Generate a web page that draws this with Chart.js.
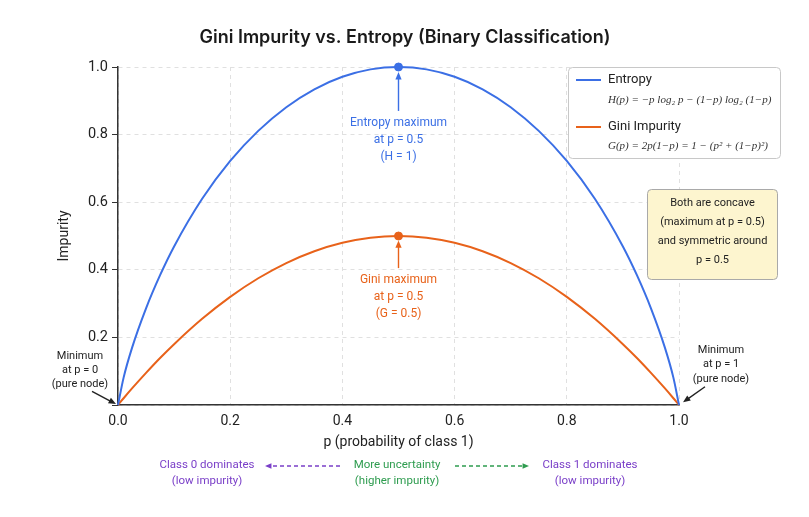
<!DOCTYPE html>
<html>
<head>
<meta charset="utf-8">
<script src="https://cdn.jsdelivr.net/npm/chart.js@4.4.1/dist/chart.umd.min.js"></script>
<style>
  html, body { margin: 0; padding: 0; background: #ffffff; }
  #wrap { width: 809px; height: 517px; }
</style>
</head>
<body>
<div id="wrap"><canvas id="giniChart" width="809" height="517"></canvas></div>
<script>
// probability of class 1
const pValues = [0, 0.01, 0.025, 0.05, 0.075, 0.1, 0.15, 0.2, 0.25, 0.3, 0.35, 0.4, 0.45, 0.5,
                 0.55, 0.6, 0.65, 0.7, 0.75, 0.8, 0.85, 0.9, 0.925, 0.95, 0.975, 0.99, 1];
const entropyValues = [0, 0.081, 0.169, 0.286, 0.384, 0.469, 0.610, 0.722, 0.811, 0.881, 0.934, 0.971, 0.993, 1,
                       0.993, 0.971, 0.934, 0.881, 0.811, 0.722, 0.610, 0.469, 0.384, 0.286, 0.169, 0.081, 0];
const giniValues = [0, 0.020, 0.049, 0.095, 0.139, 0.180, 0.255, 0.320, 0.375, 0.420, 0.455, 0.480, 0.495, 0.5,
                    0.495, 0.480, 0.455, 0.420, 0.375, 0.320, 0.255, 0.180, 0.139, 0.095, 0.049, 0.020, 0];
const entropyMax = [{ x: 0.5, y: 1 }];
const giniMax = [{ x: 0.5, y: 0.5 }];
const xTicks = [0, 0.2, 0.4, 0.6, 0.8, 1];
const yTicks = [0, 0.2, 0.4, 0.6, 0.8, 1];

const BLUE = "#3b6fe5";
const ORANGE = "#e8621a";
const PURPLE = "#7a3fc8";
const GREEN = "#2e9c4f";
const FONT = "Roboto, 'Noto Sans', sans-serif";

// -----------------------------
// helpers
// -----------------------------
function arrow(ctx, x1, y1, x2, y2, color, dashed, head) {
    ctx.save();
    ctx.strokeStyle = color;
    ctx.fillStyle = color;
    ctx.lineWidth = 1.4;
    if (dashed) ctx.setLineDash([4, 3]);
    const a = Math.atan2(y2 - y1, x2 - x1);
    const h = head || 8;
    ctx.beginPath();
    ctx.moveTo(x1, y1);
    ctx.lineTo(x2 - Math.cos(a) * h * 0.8, y2 - Math.sin(a) * h * 0.8);
    ctx.stroke();
    ctx.setLineDash([]);
    ctx.beginPath();
    ctx.moveTo(x2, y2);
    ctx.lineTo(x2 - h * Math.cos(a - 0.4), y2 - h * Math.sin(a - 0.4));
    ctx.lineTo(x2 - h * Math.cos(a + 0.4), y2 - h * Math.sin(a + 0.4));
    ctx.closePath();
    ctx.fill();
    ctx.restore();
}

function lines(ctx, list, x, y, step, color, font) {
    ctx.save();
    ctx.fillStyle = color;
    ctx.font = font;
    ctx.textAlign = "center";
    ctx.textBaseline = "middle";
    list.forEach((t, i) => ctx.fillText(t, x, y + i * step));
    ctx.restore();
}

function roundBox(ctx, x, y, w, h, r, fill, stroke) {
    ctx.save();
    ctx.beginPath();
    ctx.roundRect(x, y, w, h, r);
    ctx.fillStyle = fill;
    ctx.fill();
    ctx.strokeStyle = stroke;
    ctx.lineWidth = 1;
    ctx.stroke();
    ctx.restore();
}

// -----------------------------
// title, annotations, legend box, note box
// -----------------------------
const annotations = {
    id: "annotations",
    afterDatasetsDraw(chart) {
        const { ctx, scales: { x, y } } = chart;
        const px = v => x.getPixelForValue(v);
        const py = v => y.getPixelForValue(v);
        const f12 = "12px " + FONT;
        const f11 = "11px " + FONT;

        // title (centered on the whole figure)
        lines(ctx, ["Gini Impurity vs. Entropy (Binary Classification)"], 405, 38, 0, "#1a1a1a",
              "600 18px Inter, Roboto, sans-serif");

        // entropy maximum
        arrow(ctx, px(0.5), py(0.87), px(0.5), py(0.985), BLUE, false, 8);
        lines(ctx, ["Entropy maximum", "at p = 0.5", "(H = 1)"], px(0.5), py(0.835), 17, BLUE, f12);

        // gini maximum
        arrow(ctx, px(0.5), py(0.405), px(0.5), py(0.487), ORANGE, false, 8);
        lines(ctx, ["Gini maximum", "at p = 0.5", "(G = 0.5)"], px(0.5), py(0.37), 17, ORANGE, f12);

        // minimum labels
        lines(ctx, ["Minimum", "at p = 0", "(pure node)"], px(0) - 38, py(0.145), 14, "#222", f11);
        arrow(ctx, px(0) - 26, py(0.04), px(0) - 2, py(0.003), "#222", false, 8);
        lines(ctx, ["Minimum", "at p = 1", "(pure node)"], px(1) + 42, py(0.162), 14.5, "#222", f11);
        arrow(ctx, px(1) + 26, py(0.054), px(1) + 4, py(0.008), "#222", false, 8);

        // legend
        roundBox(ctx, 568.5, 67.5, 212, 91, 4, "#ffffff", "#c8c8c8");
        ctx.save();
        ctx.lineWidth = 2;
        ctx.strokeStyle = BLUE;
        ctx.beginPath(); ctx.moveTo(576, 80); ctx.lineTo(601, 80); ctx.stroke();
        ctx.strokeStyle = ORANGE;
        ctx.beginPath(); ctx.moveTo(576, 127); ctx.lineTo(601, 127); ctx.stroke();
        ctx.fillStyle = "#222";
        ctx.textBaseline = "middle";
        ctx.textAlign = "left";
        ctx.font = "13px " + FONT;
        ctx.fillText("Entropy", 608, 80);
        ctx.fillText("Gini Impurity", 608, 127);
        ctx.fillStyle = "#333";
        ctx.font = "italic 11px 'Liberation Serif', 'DejaVu Serif', serif";
        ctx.fillText("H(p) = \u2212p log\u2082 p \u2212 (1\u2212p) log\u2082 (1\u2212p)", 608, 100);
        ctx.fillText("G(p) = 2p(1\u2212p) = 1 \u2212 (p\u00b2 + (1\u2212p)\u00b2)", 608, 146);
        ctx.restore();

        // note box
        roundBox(ctx, 647.5, 189.5, 130, 90, 4, "#fdf5cf", "#a9a9a9");
        lines(ctx, ["Both are concave", "(maximum at p = 0.5)", "and symmetric around", "p = 0.5"],
              712.5, 203, 19, "#222", "11px " + FONT);

        // bottom guide
        const f115 = "11.5px " + FONT;
        lines(ctx, ["Class 0 dominates", "(low impurity)"], 207, 465, 16, PURPLE, f115);
        lines(ctx, ["More uncertainty", "(higher impurity)"], 397, 465, 16, GREEN, f115);
        lines(ctx, ["Class 1 dominates", "(low impurity)"], 590, 465, 16, PURPLE, f115);
        arrow(ctx, 340, 466, 265, 466, PURPLE, true, 7);
        arrow(ctx, 455, 466, 529, 466, GREEN, true, 7);
    }
};

new Chart(document.getElementById("giniChart"), {
    type: "line",
    data: {
        datasets: [
            {
                label: "Entropy",
                data: pValues.map((p, i) => ({ x: p, y: entropyValues[i] })),
                borderColor: BLUE,
                borderWidth: 2,
                pointRadius: 0,
                clip: false,
                cubicInterpolationMode: "monotone"
            },
            {
                label: "Gini Impurity",
                data: pValues.map((p, i) => ({ x: p, y: giniValues[i] })),
                borderColor: ORANGE,
                borderWidth: 2,
                pointRadius: 0,
                clip: false,
                cubicInterpolationMode: "monotone"
            },
            {
                label: "Entropy max",
                data: entropyMax,
                showLine: false,
                clip: false,
                pointRadius: 4,
                pointBackgroundColor: BLUE,
                pointBorderColor: BLUE
            },
            {
                label: "Gini max",
                data: giniMax,
                showLine: false,
                clip: false,
                pointRadius: 4,
                pointBackgroundColor: ORANGE,
                pointBorderColor: ORANGE
            }
        ]
    },
    options: {
        responsive: false,
        animation: false,
        events: [],
        layout: { padding: { left: 50, right: 130, top: 67, bottom: 62 } },
        plugins: {
            legend: { display: false },
            tooltip: { enabled: false },
            title: { display: false }
        },
        scales: {
            x: {
                type: "linear",
                min: 0,
                max: 1,
                afterBuildTicks: s => { s.ticks = xTicks.map(v => ({ value: v })); },
                afterFit: s => { s.height = 50; },
                ticks: {
                    callback: v => v.toFixed(1),
                    color: "#222",
                    font: { family: FONT, size: 14 },
                    padding: 8
                },
                grid: { color: "#e0e0e0", drawTicks: false },
                border: { color: "#333", width: 1.5, dash: [4, 4] },
                title: {
                    display: true,
                    text: "p (probability of class 1)",
                    color: "#222",
                    font: { family: FONT, size: 14 },
                    padding: { top: 4, bottom: 4 }
                }
            },
            y: {
                type: "linear",
                min: 0,
                max: 1,
                afterBuildTicks: s => { s.ticks = yTicks.map(v => ({ value: v })); },
                afterFit: s => { s.width = 68; },
                ticks: {
                    callback: v => v === 0 ? "" : v.toFixed(1),
                    color: "#222",
                    font: { family: FONT, size: 14.5 },
                    padding: 4
                },
                grid: { color: "#e0e0e0", tickColor: "#333", tickLength: 6, tickBorderDash: [] },
                border: { color: "#333", width: 1.5, dash: [4, 4] },
                title: {
                    display: true,
                    text: "Impurity",
                    color: "#222",
                    font: { family: FONT, size: 14 },
                    padding: { top: 6, bottom: 4 }
                }
            }
        }
    },
    plugins: [annotations]
});
</script>
</body>
</html>
